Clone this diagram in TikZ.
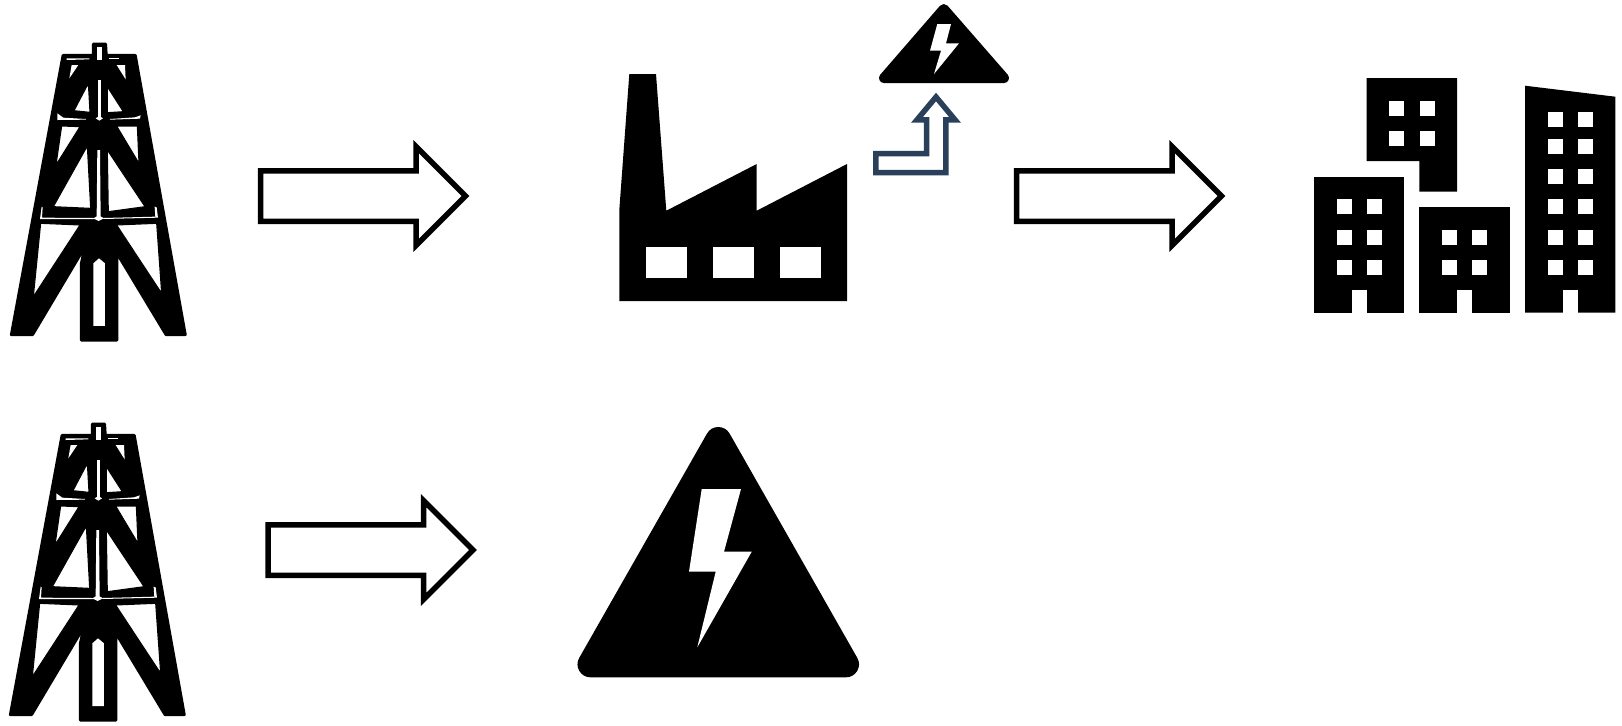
\documentclass[tikz,border=0pt]{standalone}
\usepackage{tikz}
\usetikzlibrary{shapes.arrows}
\definecolor{bentblue}{RGB}{42,63,90}
\tikzset{
  blockarrow/.style={draw=black, fill=white, line width=0.11cm, single arrow, inner xsep=0pt, inner ysep=0.45cm, outer sep=0pt, anchor=tail,
    minimum height=4.1cm, single arrow head extend=0.48cm, single arrow tip angle=90, single arrow head indent=0pt},
  hole/.style={fill=white, draw=none},
  bighole/.style={fill=white, draw=black, line width=0.6pt},
  warnsign/.style={fill=black, draw=black, line join=round},
  tower/.pic={
    \begin{scope}[x=0.006667cm, y=-0.006667cm]
    \draw[fill=black, line width=1.6pt, line join=round] (280,42) -- (317,42) -- (319,76) -- (406,76) -- (556,914) -- (498,914) -- (345,660) -- (351,690) -- (351,931) -- (244,931) -- (244,700) -- (255,650) -- (98,914) -- (34,914) -- (189,76) -- (280,76) -- cycle;
    \fill[hole] (290,50) rectangle (305,90);
    \fill[hole] (200,85) -- (268,85) -- (268,88) -- (200,90) -- cycle;
    \fill[hole] (328,85) -- (356,85) -- (356,88) -- (328,88) -- cycle;
    \fill[hole] (215,105) -- (235,105) -- (208,145) -- cycle;
    \fill[hole] (350,105) -- (375,105) -- (377,148) -- cycle;
    \filldraw[bighole] (265,160) -- (270,247) -- (222,242) -- cycle;
    \filldraw[bighole] (322,170) -- (370,245) -- (322,248) -- cycle;
    \fill[hole] (294,150) -- (302,150) -- (302,262) -- (294,262) -- cycle;
    \fill[hole] (172,250) -- (190,263) -- (258,267) -- (258,269) -- (172,270) -- cycle;
    \fill[hole] (330,267) -- (405,262) -- (422,256) -- (420,266) -- (330,269) -- cycle;
    \fill[hole] (287,265) -- (298,258) -- (309,265) -- (298,272) -- cycle;
    \filldraw[bighole] (185,288) -- (240,290) -- (168,405) -- cycle;
    \filldraw[bighole] (350,288) -- (412,288) -- (417,400) -- cycle;
    \filldraw[bighole] (262,348) -- (272,535) -- (160,530) -- cycle;
    \filldraw[bighole] (322,360) -- (435,530) -- (325,545) -- cycle;
    \fill[hole] (292,360) -- (300,360) -- (302,562) -- (290,562) -- cycle;
    \fill[hole] (125,530) -- (128,532) -- (126,563) -- (280,564) -- (284,567) -- (120,567) -- cycle;
    \fill[hole] (310,564) -- (466,560) -- (464,530) -- (470,532) -- (474,563) -- (310,567) -- cycle;
    \fill[hole] (280,565) -- (296,556) -- (312,565) -- (296,573) -- cycle;
    \filldraw[bighole] (122,580) -- (240,585) -- (100,800) -- cycle;
    \filldraw[bighole] (350,585) -- (470,580) -- (485,790) -- cycle;
    \fill[hole] (280,700) -- (297,685) -- (315,700) -- (315,888) -- (280,888) -- cycle;
    \end{scope}
  }
}
\begin{document}
\begin{tikzpicture}[x=0.02cm, y=-0.02cm]
\useasboundingbox (0,0) rectangle (1622,725);
\pic at (0,30) {tower};
\pic at (-1,410) {tower};
\node[blockarrow] (arrowa) at (260.5,196) {};
\node[blockarrow] (arrowb) at (268,550) {};
\node[blockarrow] (arrowc) at (1016.5,196) {};
\fill (629.3,74) -- (656,74) -- (666.3,210.7) -- (756.7,164) -- (756.7,210.7) -- (847,164) -- (847,301) -- (619.3,301) -- (619.3,210) -- cycle;
\foreach \wx in {646,713,780}
  \fill[hole] (\wx,247.3) rectangle +(40.5,30.4);
\draw[bentblue, line width=0.11cm, miter limit=10, fill=white] (875.8,172.5) -- (875.8,153.5) -- (926.5,153.5) -- (926.5,119.8) -- (917,119.8) -- (936,97) -- (955,119.8) -- (945.8,119.8) -- (945.8,172.5) -- cycle;
\draw[warnsign, line width=0.2cm] (884,78) -- (943.8,9) -- (1004,78) -- cycle;
\fill[hole] (937.3,24) -- (951,24) -- (946,43.3) -- (959,43.3) -- (934,74) -- (941,50.7) -- (930,50.7) -- cycle;
\draw[warnsign, line width=0.52cm] (590.5,664.3) -- (718.3,440) -- (846,664.3) -- cycle;
\fill[hole] (701.7,489) -- (741,489) -- (724,551.7) -- (751.7,551.7) -- (697.3,647.3) -- (715.7,571.7) -- (689,571.7) -- cycle;
\fill (1366.7,78) -- (1457,78) -- (1457,191.7) -- (1419.3,191.7) -- (1419.3,161) -- (1366.7,161) -- cycle;
\foreach \wx in {1389.3,1419.5}
  \foreach \wy in {100.7,131}
    \fill[hole] (\wx,\wy) rectangle +(15,15);
\fill (1314,176.7) -- (1404.3,176.7) -- (1404.3,312.7) -- (1314,312.7) -- cycle;
\fill[hole] (1351.7,290) rectangle (1366.7,312.9);
\foreach \wx in {1336.5,1366.7}
  \foreach \wy in {199.3,229.7,260}
    \fill[hole] (\wx,\wy) rectangle +(15,15);
\fill (1419.3,206.7) -- (1510,206.7) -- (1510,312.7) -- (1419.3,312.7) -- cycle;
\fill[hole] (1457,290) rectangle (1472.3,312.9);
\foreach \wx in {1442,1472.3}
  \foreach \wy in {229.7,260}
    \fill[hole] (\wx,\wy) rectangle +(15,15);
\fill (1525,85.7) -- (1615.3,96.7) -- (1615.3,312.7) -- (1525,312.7) -- cycle;
\fill[hole] (1562.7,290) rectangle (1577.7,312.9);
\foreach \wx in {1547.7,1577.7}
  \foreach \wy in {112,138.7,169,199.3,229.7,260}
    \fill[hole] (\wx,\wy) rectangle +(15,15);
\end{tikzpicture}
\end{document}
